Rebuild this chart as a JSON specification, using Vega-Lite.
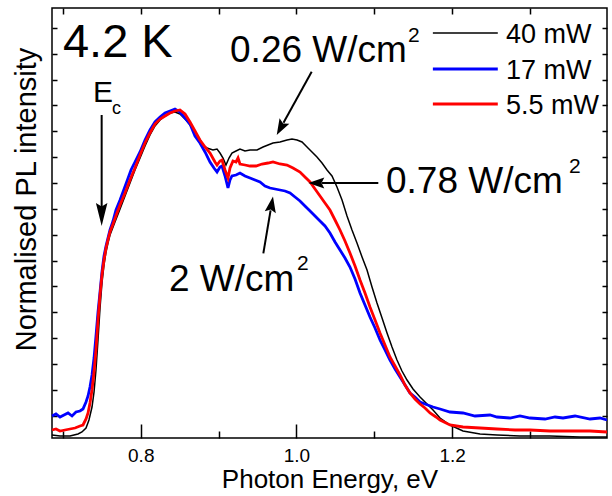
{
  "$schema": "https://vega.github.io/schema/vega-lite/v6.json",
  "width": 555,
  "height": 430,
  "autosize": {"type": "none"},
  "padding": {"left": 52, "top": 8, "right": 5, "bottom": 58},
  "background": "white",
  "config": {
    "font": "Liberation Sans",
    "view": {"stroke": "#000", "strokeWidth": 1.5}
  },
  "datasets": {
    "k": [
      {"E":0.686,"I":3},{"E":0.6963,"I":2},{"E":0.7091,"I":2},{"E":0.7194,"I":4},{"E":0.7245,"I":6},{"E":0.7297,"I":10},{"E":0.7335,"I":18},{"E":0.7374,"I":31},{"E":0.7400,"I":46},{"E":0.7425,"I":68},{"E":0.7451,"I":98},{"E":0.7477,"I":130},{"E":0.7502,"I":155},{"E":0.7528,"I":173},{"E":0.7554,"I":186},{"E":0.7579,"I":195},{"E":0.7605,"I":203},{"E":0.7669,"I":216},{"E":0.7734,"I":229},{"E":0.7798,"I":242},{"E":0.7862,"I":255},{"E":0.7926,"I":268},{"E":0.7991,"I":280},{"E":0.8055,"I":292},{"E":0.8119,"I":303},{"E":0.8183,"I":312},{"E":0.8248,"I":318},{"E":0.8312,"I":322},{"E":0.8376,"I":325},{"E":0.8440,"I":326},{"E":0.8504,"I":324},{"E":0.8582,"I":318},{"E":0.8633,"I":313},{"E":0.8710,"I":305},{"E":0.8761,"I":298},{"E":0.8800,"I":293},{"E":0.8851,"I":290},{"E":0.8928,"I":288},{"E":0.8980,"I":289},{"E":0.9018,"I":285},{"E":0.9057,"I":280},{"E":0.9095,"I":273},{"E":0.9134,"I":280},{"E":0.9172,"I":285},{"E":0.9224,"I":287},{"E":0.9275,"I":289},{"E":0.9339,"I":287},{"E":0.9404,"I":288},{"E":0.9494,"I":288},{"E":0.9571,"I":291},{"E":0.9635,"I":293},{"E":0.9699,"I":295},{"E":0.9789,"I":296},{"E":0.9879,"I":298},{"E":0.9943,"I":299},{"E":1.0008,"I":298},{"E":1.0072,"I":296},{"E":1.0136,"I":291},{"E":1.0200,"I":286},{"E":1.0264,"I":281},{"E":1.0329,"I":275},{"E":1.0393,"I":268},{"E":1.0457,"I":262},{"E":1.0521,"I":251},{"E":1.0586,"I":238},{"E":1.0650,"I":222},{"E":1.0714,"I":208},{"E":1.0778,"I":195},{"E":1.0843,"I":181},{"E":1.0907,"I":168},{"E":1.0971,"I":151},{"E":1.1035,"I":135},{"E":1.1100,"I":120},{"E":1.1164,"I":105},{"E":1.1228,"I":91},{"E":1.1292,"I":78},{"E":1.1356,"I":67},{"E":1.1421,"I":58},{"E":1.1498,"I":49},{"E":1.1588,"I":41},{"E":1.1678,"I":34},{"E":1.1755,"I":28},{"E":1.1845,"I":20},{"E":1.1973,"I":13},{"E":1.2140,"I":7},{"E":1.2359,"I":4},{"E":1.2577,"I":3},{"E":1.2872,"I":2},{"E":1.3258,"I":2},{"E":1.3643,"I":1},{"E":1.3990,"I":1}
    ],
    "b": [
      {"E":0.686,"I":22},{"E":0.6911,"I":24},{"E":0.6963,"I":21},{"E":0.7014,"I":23},{"E":0.7066,"I":25},{"E":0.7117,"I":22},{"E":0.7168,"I":26},{"E":0.7220,"I":27},{"E":0.7258,"I":29},{"E":0.7297,"I":36},{"E":0.7323,"I":42},{"E":0.7348,"I":51},{"E":0.7374,"I":63},{"E":0.7400,"I":80},{"E":0.7425,"I":102},{"E":0.7451,"I":126},{"E":0.7477,"I":146},{"E":0.7502,"I":166},{"E":0.7528,"I":182},{"E":0.7554,"I":192},{"E":0.7579,"I":200},{"E":0.7605,"I":208},{"E":0.7644,"I":217},{"E":0.7682,"I":228},{"E":0.7734,"I":238},{"E":0.7772,"I":246},{"E":0.7824,"I":257},{"E":0.7875,"I":268},{"E":0.7926,"I":276},{"E":0.7991,"I":286},{"E":0.8055,"I":298},{"E":0.8119,"I":308},{"E":0.8183,"I":316},{"E":0.8248,"I":321},{"E":0.8312,"I":325},{"E":0.8376,"I":327},{"E":0.8440,"I":329},{"E":0.8504,"I":326},{"E":0.8569,"I":320},{"E":0.8633,"I":314},{"E":0.8697,"I":302},{"E":0.8761,"I":295},{"E":0.8826,"I":286},{"E":0.8890,"I":276},{"E":0.8941,"I":270},{"E":0.8980,"I":266},{"E":0.9018,"I":271},{"E":0.9044,"I":272},{"E":0.9083,"I":262},{"E":0.9121,"I":250},{"E":0.9147,"I":258},{"E":0.9172,"I":262},{"E":0.9224,"I":263},{"E":0.9275,"I":265},{"E":0.9339,"I":262},{"E":0.9404,"I":260},{"E":0.9468,"I":258},{"E":0.9532,"I":256},{"E":0.9596,"I":252},{"E":0.9661,"I":250},{"E":0.9725,"I":249},{"E":0.9789,"I":248},{"E":0.9853,"I":247},{"E":0.9918,"I":245},{"E":0.9982,"I":241},{"E":1.0046,"I":237},{"E":1.0110,"I":232},{"E":1.0175,"I":227},{"E":1.0239,"I":222},{"E":1.0303,"I":217},{"E":1.0367,"I":212},{"E":1.0431,"I":205},{"E":1.0496,"I":196},{"E":1.0560,"I":188},{"E":1.0624,"I":180},{"E":1.0688,"I":171},{"E":1.0753,"I":159},{"E":1.0817,"I":145},{"E":1.0881,"I":133},{"E":1.0945,"I":121},{"E":1.1010,"I":110},{"E":1.1074,"I":98},{"E":1.1138,"I":88},{"E":1.1202,"I":78},{"E":1.1267,"I":69},{"E":1.1331,"I":61},{"E":1.1395,"I":53},{"E":1.1459,"I":45},{"E":1.1523,"I":41},{"E":1.1588,"I":36},{"E":1.1652,"I":34},{"E":1.1755,"I":31},{"E":1.1845,"I":29},{"E":1.1973,"I":26},{"E":1.2140,"I":25},{"E":1.2294,"I":22},{"E":1.2487,"I":23},{"E":1.2577,"I":21},{"E":1.2744,"I":20},{"E":1.2872,"I":22},{"E":1.3001,"I":20},{"E":1.3194,"I":19},{"E":1.3322,"I":21},{"E":1.3425,"I":20},{"E":1.3579,"I":22},{"E":1.3772,"I":19},{"E":1.3900,"I":20},{"E":1.3990,"I":18}
    ],
    "r": [
      {"E":0.686,"I":8},{"E":0.6911,"I":9},{"E":0.6963,"I":7},{"E":0.7027,"I":8},{"E":0.7091,"I":9},{"E":0.7156,"I":10},{"E":0.7220,"I":12},{"E":0.7258,"I":13},{"E":0.7297,"I":19},{"E":0.7323,"I":25},{"E":0.7348,"I":35},{"E":0.7374,"I":48},{"E":0.7400,"I":66},{"E":0.7425,"I":88},{"E":0.7451,"I":118},{"E":0.7477,"I":143},{"E":0.7502,"I":163},{"E":0.7528,"I":178},{"E":0.7554,"I":190},{"E":0.7579,"I":198},{"E":0.7605,"I":206},{"E":0.7644,"I":214},{"E":0.7695,"I":225},{"E":0.7734,"I":233},{"E":0.7798,"I":245},{"E":0.7862,"I":258},{"E":0.7926,"I":270},{"E":0.7991,"I":283},{"E":0.8055,"I":295},{"E":0.8119,"I":305},{"E":0.8183,"I":314},{"E":0.8248,"I":319},{"E":0.8312,"I":322},{"E":0.8376,"I":325},{"E":0.8440,"I":327},{"E":0.8504,"I":328},{"E":0.8569,"I":324},{"E":0.8633,"I":316},{"E":0.8697,"I":307},{"E":0.8761,"I":298},{"E":0.8826,"I":291},{"E":0.8890,"I":285},{"E":0.8954,"I":276},{"E":0.8980,"I":273},{"E":0.9018,"I":277},{"E":0.9044,"I":278},{"E":0.9083,"I":268},{"E":0.9121,"I":260},{"E":0.9147,"I":270},{"E":0.9185,"I":277},{"E":0.9224,"I":276},{"E":0.9250,"I":280},{"E":0.9275,"I":274},{"E":0.9339,"I":273},{"E":0.9404,"I":272},{"E":0.9481,"I":272},{"E":0.9558,"I":274},{"E":0.9635,"I":275},{"E":0.9699,"I":276},{"E":0.9789,"I":274},{"E":0.9879,"I":273},{"E":0.9956,"I":270},{"E":1.0046,"I":266},{"E":1.0110,"I":261},{"E":1.0175,"I":256},{"E":1.0239,"I":249},{"E":1.0303,"I":242},{"E":1.0367,"I":235},{"E":1.0431,"I":228},{"E":1.0496,"I":218},{"E":1.0560,"I":208},{"E":1.0624,"I":197},{"E":1.0688,"I":185},{"E":1.0753,"I":172},{"E":1.0817,"I":158},{"E":1.0881,"I":145},{"E":1.0945,"I":131},{"E":1.1010,"I":118},{"E":1.1074,"I":105},{"E":1.1138,"I":93},{"E":1.1202,"I":81},{"E":1.1267,"I":72},{"E":1.1331,"I":63},{"E":1.1395,"I":53},{"E":1.1459,"I":45},{"E":1.1523,"I":39},{"E":1.1588,"I":34},{"E":1.1652,"I":30},{"E":1.1716,"I":25},{"E":1.1793,"I":21},{"E":1.1845,"I":18},{"E":1.1973,"I":13},{"E":1.2140,"I":11},{"E":1.2359,"I":10},{"E":1.2577,"I":9},{"E":1.2808,"I":8},{"E":1.3001,"I":8},{"E":1.3258,"I":7},{"E":1.3515,"I":7},{"E":1.3772,"I":7},{"E":1.3990,"I":6}
    ],
    "leg": [
      {"s":"40 mW","E1":1.1753,"E2":1.2587,"I":405,"tE":1.2693,"tI":395},
      {"s":"17 mW","E1":1.1753,"E2":1.2587,"I":369,"tE":1.2693,"tI":359.5},
      {"s":"5.5 mW","E1":1.1753,"E2":1.2587,"I":334,"tE":1.2693,"tI":324}
    ],
    "arr": [
      {"E1":0.7498,"I1":323,"E2":0.7498,"I2":226},
      {"E1":1.0196,"I1":366.3,"E2":0.9834,"I2":315.3},
      {"E1":1.1052,"I1":255,"E2":1.0329,"I2":255},
      {"E1":0.9575,"I1":184.7,"E2":0.9668,"I2":227.7}
    ],
    "mid": [
      {"t":"0.26 W/cm","E":0.9147,"I":376.3},
      {"t":"0.78 W/cm","E":1.1151,"I":244.7},
      {"t":"2 W/cm","E":0.8363,"I":147}
    ],
    "sup": [
      {"t":"2","E":1.1434,"I":396},
      {"t":"2","E":1.3502,"I":265},
      {"t":"2","E":1.0008,"I":168}
    ]
  },
  "resolve": {"axis": {"x": "independent", "y": "independent"}},
  "layer": [
    {
      "data": {"name": "k"},
      "mark": {"type": "line", "color": "#000", "strokeWidth": 1.5},
      "encoding": {
        "x": {"field": "E", "type": "quantitative",
          "scale": {"domain": [0.686, 1.399], "nice": false, "zero": false},
          "axis": {"orient": "bottom", "values": [0.8, 1.0, 1.2], "format": ".1f",
            "tickSize": -14,
            "labelFontSize": 19, "labelBaseline": "alphabetic", "labelPadding": 37, "labelColor": "#000",
            "tickColor": "#000", "tickWidth": 1.5, "domain": false, "grid": false,
            "title": "Photon Energy, eV", "titleFontSize": 26, "titleFontWeight": "normal", "titleColor": "#000",
            "titleY": 49, "titleBaseline": "alphabetic"}},
        "y": {"field": "I", "type": "quantitative",
          "scale": {"domain": [0, 430], "nice": false, "zero": false},
          "axis": {"orient": "left",
            "values": [22.3, 48.15, 74, 99.85, 125.7, 151.55, 177.4, 203.25, 229.1, 254.95, 280.8, 306.65, 332.5, 358.35, 384.2, 410.05],
            "tickSize": -5, "labels": false, "tickColor": "#000", "tickWidth": 1.5, "domain": false, "grid": false,
            "title": "Normalised PL intensity", "titleFontSize": 29, "titleFontWeight": "normal", "titleColor": "#000",
            "titleX": -17, "titleY": 191, "titleAngle": -90, "titleBaseline": "alphabetic", "titleAlign": "center"}}
      }
    },
    {
      "data": {"name": "b"},
      "mark": {"type": "line", "color": "#0000ff", "strokeWidth": 2.8},
      "encoding": {
        "x": {"field": "E", "type": "quantitative",
          "scale": {"domain": [0.686, 1.399], "nice": false, "zero": false},
          "axis": {"orient": "top", "values": [0.7, 0.8, 0.9, 1.0, 1.1, 1.2, 1.3],
            "tickSize": -6, "labels": false, "tickColor": "#000", "tickWidth": 1.5, "domain": false, "grid": false, "title": null}},
        "y": {"field": "I", "type": "quantitative",
          "scale": {"domain": [0, 430], "nice": false, "zero": false},
          "axis": {"orient": "right",
            "values": [22.3, 48.15, 74, 99.85, 125.7, 151.55, 177.4, 203.25, 229.1, 254.95, 280.8, 306.65, 332.5, 358.35, 384.2, 410.05],
            "tickSize": -5, "labels": false, "tickColor": "#000", "tickWidth": 1.5, "domain": false, "grid": false, "title": null}}
      }
    },
    {
      "data": {"name": "r"},
      "mark": {"type": "line", "color": "#ff0000", "strokeWidth": 2.8},
      "encoding": {
        "x": {"field": "E", "type": "quantitative",
          "scale": {"domain": [0.686, 1.399], "nice": false, "zero": false},
          "axis": {"orient": "bottom", "values": [0.7, 0.9, 1.1, 1.3],
            "tickSize": -7, "labels": false, "tickColor": "#000", "tickWidth": 1.5, "domain": false, "grid": false, "title": null}},
        "y": {"field": "I", "type": "quantitative", "axis": null}
      }
    },
    {
      "data": {"name": "leg"},
      "mark": {"type": "rule"},
      "encoding": {
        "x": {"field": "E1", "type": "quantitative", "axis": null},
        "x2": {"field": "E2"},
        "y": {"field": "I", "type": "quantitative", "axis": null},
        "color": {"field": "s", "type": "nominal", "legend": null,
          "scale": {"domain": ["40 mW", "17 mW", "5.5 mW"], "range": ["#000000", "#0000ff", "#ff0000"]}},
        "strokeWidth": {"condition": {"test": "datum.s==='40 mW'", "value": 1.5}, "value": 2.8}
      }
    },
    {
      "data": {"name": "leg"},
      "mark": {"type": "text", "align": "left", "baseline": "alphabetic", "fontSize": 27, "color": "#000"},
      "encoding": {
        "x": {"field": "tE", "type": "quantitative", "axis": null},
        "y": {"field": "tI", "type": "quantitative", "axis": null},
        "text": {"field": "s"}
      }
    },
    {
      "data": {"name": "arr"},
      "mark": {"type": "rule", "color": "#000", "strokeWidth": 2},
      "encoding": {
        "x": {"field": "E1", "type": "quantitative", "axis": null},
        "x2": {"field": "E2"},
        "y": {"field": "I1", "type": "quantitative", "axis": null},
        "y2": {"field": "I2"}
      }
    },
    {
      "data": {"values": [{"E": 0.7498, "I": 212}]},
      "mark": {"type": "point", "shape": "M0,0L-0.5,-2L0,-1.7L0.5,-2Z", "filled": true, "color": "#000", "opacity": 1, "size": 529, "angle": 0, "strokeWidth": 0},
      "encoding": {
        "x": {"field": "E", "type": "quantitative", "axis": null},
        "y": {"field": "I", "type": "quantitative", "axis": null}
      }
    },
    {
      "data": {"values": [{"E": 0.9747, "I": 303}]},
      "mark": {"type": "point", "shape": "M0,0L-0.7,-2L0,-1.65L0.7,-2Z", "filled": true, "color": "#000", "opacity": 1, "size": 256, "angle": 28.9, "strokeWidth": 0},
      "encoding": {
        "x": {"field": "E", "type": "quantitative", "axis": null},
        "y": {"field": "I", "type": "quantitative", "axis": null}
      }
    },
    {
      "data": {"values": [{"E": 1.0153, "I": 255}]},
      "mark": {"type": "point", "shape": "M0,0L-0.7,-2L0,-1.65L0.7,-2Z", "filled": true, "color": "#000", "opacity": 1, "size": 256, "angle": 90, "strokeWidth": 0},
      "encoding": {
        "x": {"field": "E", "type": "quantitative", "axis": null},
        "y": {"field": "I", "type": "quantitative", "axis": null}
      }
    },
    {
      "data": {"values": [{"E": 0.9699, "I": 241.5}]},
      "mark": {"type": "point", "shape": "M0,0L-0.7,-2L0,-1.65L0.7,-2Z", "filled": true, "color": "#000", "opacity": 1, "size": 256, "angle": -170.3, "strokeWidth": 0},
      "encoding": {
        "x": {"field": "E", "type": "quantitative", "axis": null},
        "y": {"field": "I", "type": "quantitative", "axis": null}
      }
    },
    {
      "data": {"values": [{"t": "4.2 K", "E": 0.7001, "I": 381}]},
      "mark": {"type": "text", "align": "left", "baseline": "alphabetic", "fontSize": 47, "color": "#000"},
      "encoding": {
        "x": {"field": "E", "type": "quantitative", "axis": null},
        "y": {"field": "I", "type": "quantitative", "axis": null},
        "text": {"field": "t"}
      }
    },
    {
      "data": {"name": "mid"},
      "mark": {"type": "text", "align": "left", "baseline": "alphabetic", "fontSize": 37, "color": "#000"},
      "encoding": {
        "x": {"field": "E", "type": "quantitative", "axis": null},
        "y": {"field": "I", "type": "quantitative", "axis": null},
        "text": {"field": "t"}
      }
    },
    {
      "data": {"name": "sup"},
      "mark": {"type": "text", "align": "left", "baseline": "alphabetic", "fontSize": 21, "color": "#000"},
      "encoding": {
        "x": {"field": "E", "type": "quantitative", "axis": null},
        "y": {"field": "I", "type": "quantitative", "axis": null},
        "text": {"field": "t"}
      }
    },
    {
      "data": {"values": [{"t": "E", "E": 0.7387, "I": 336.3}]},
      "mark": {"type": "text", "align": "left", "baseline": "alphabetic", "fontSize": 30, "color": "#000"},
      "encoding": {
        "x": {"field": "E", "type": "quantitative", "axis": null},
        "y": {"field": "I", "type": "quantitative", "axis": null},
        "text": {"field": "t"}
      }
    },
    {
      "data": {"values": [{"t": "c", "E": 0.7631, "I": 324}]},
      "mark": {"type": "text", "align": "left", "baseline": "alphabetic", "fontSize": 18, "color": "#000"},
      "encoding": {
        "x": {"field": "E", "type": "quantitative", "axis": null},
        "y": {"field": "I", "type": "quantitative", "axis": null},
        "text": {"field": "t"}
      }
    }
  ]
}
